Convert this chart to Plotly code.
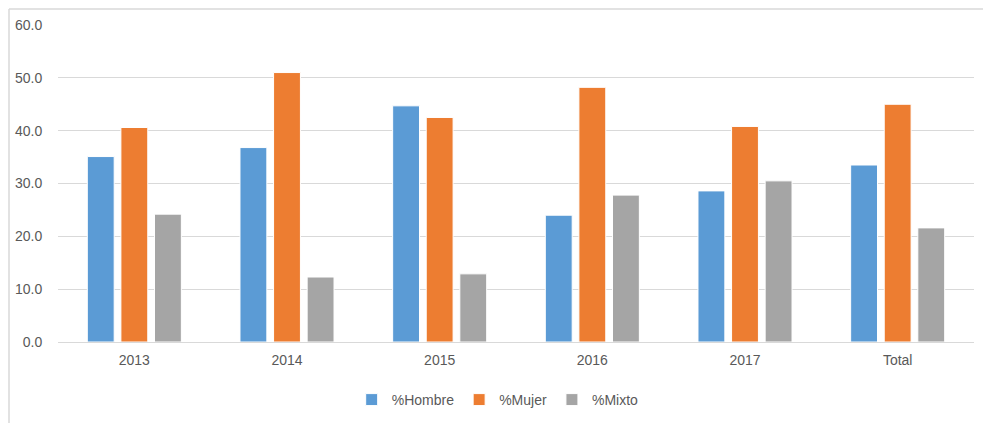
import plotly.graph_objects as go

categorias = ["2013", "2014", "2015", "2016", "2017", "Total"]
hombre = [35.1, 36.8, 44.7, 24.0, 28.6, 33.5]
mujer = [40.6, 51.0, 42.5, 48.2, 40.8, 45.0]
mixto = [24.2, 12.3, 12.9, 27.8, 30.5, 21.6]

# la página pone el gráfico 8 px hacia dentro (margen del body)
OFF = 8
W, H = 991 - OFF, 423 - OFF
ml, mr, mt, mb = 58 - OFF, 17, 25 - OFF, 81
pw, ph = W - ml - mr, H - mt - mb


def px_x(p):
    return (p - OFF - ml) / pw


def px_y(p):
    return (H - mb - (p - OFF)) / ph


fig = go.Figure()
for nombre, vals, color in [("%Hombre", hombre, "#5b9bd5"),
                            ("%Mujer", mujer, "#ed7d31"),
                            ("%Mixto", mixto, "#a5a5a5")]:
    fig.add_trace(go.Bar(x=categorias, y=vals, name=nombre,
                         marker=dict(color=color, line=dict(color="white", width=1))))

fig.update_layout(
    width=W, height=H,
    margin=dict(l=ml, r=mr, t=mt, b=mb, autoexpand=False),
    paper_bgcolor="white", plot_bgcolor="white",
    barmode="group", bargap=0.34, bargroupgap=0.2,
    font=dict(family="Liberation Sans, Arial", size=14, color="#595959"),
    legend=dict(orientation="h", x=0.48, xanchor="center", y=px_y(400), yanchor="middle",
                font=dict(size=14, color="#595959"), itemwidth=30,
                traceorder="normal"),
    # borde del gráfico (solo izquierda y arriba visibles)
    shapes=[
        dict(type="line", xref="paper", yref="paper",
             x0=px_x(9), x1=px_x(9), y0=px_y(9), y1=px_y(423),
             line=dict(color="#d9d9d9", width=1.5)),
        dict(type="line", xref="paper", yref="paper",
             x0=px_x(9), x1=px_x(991), y0=px_y(9), y1=px_y(9),
             line=dict(color="#d9d9d9", width=1.5)),
    ],
)
fig.update_xaxes(showline=True, linecolor="#d9d9d9", linewidth=1,
                 ticks="outside", ticklen=5, tickcolor="white", automargin=False,
                 tickfont=dict(size=14, color="#595959"))
fig.update_yaxes(range=[0, 60], dtick=10, tickformat=".1f", showgrid=True,
                 gridcolor="#d9d9d9", gridwidth=1, zeroline=False, automargin=False,
                 ticks="outside", ticklen=12, tickcolor="white",
                 tickfont=dict(size=14, color="#595959"))

fig.write_html("out.html")
